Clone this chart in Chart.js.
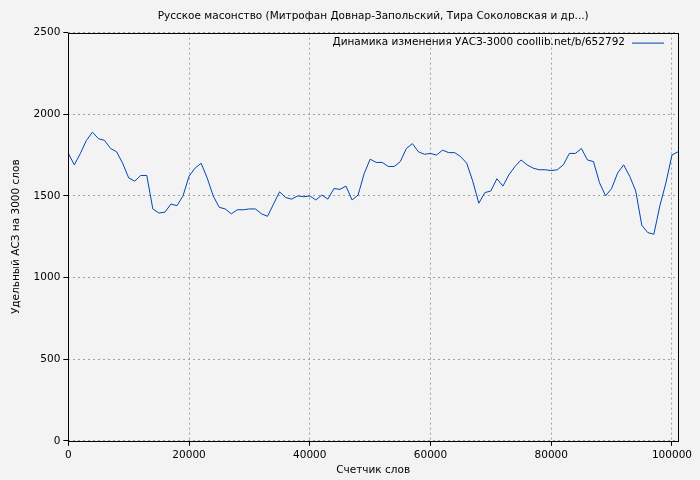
<!DOCTYPE html>
<html>
<head>
<meta charset="utf-8">
<script src="https://cdn.jsdelivr.net/npm/chart.js@4"></script>
<style>
  body { margin: 0; background: #f3f3f3; }
  #wrap { width: 700px; height: 480px; }
</style>
</head>
<body>
<div id="wrap"><canvas id="myChart" width="700" height="480"></canvas></div>
<script>
const xValues = [];
for (let i = 0; i <= 101; i++) xValues.push(i * 1000);
const usesValues = [
  1760, 1690, 1760, 1840, 1890, 1850, 1840, 1790, 1770, 1700,
  1610, 1590, 1625, 1625, 1420, 1395, 1400, 1450, 1440, 1500,
  1620, 1670, 1700, 1610, 1500, 1430, 1420, 1390, 1415, 1415,
  1420, 1420, 1390, 1375, 1450, 1525, 1490, 1480, 1500, 1495,
  1500, 1475, 1505, 1480, 1545, 1540, 1560, 1475, 1505, 1635,
  1725, 1705, 1705, 1680, 1680, 1710, 1790, 1820, 1770, 1755,
  1760, 1750, 1780, 1765, 1765, 1740, 1700, 1590, 1455, 1520,
  1530, 1605, 1560, 1630, 1680, 1720, 1690, 1670, 1660, 1660,
  1655, 1660, 1690, 1760, 1760, 1790, 1720, 1710, 1580, 1500,
  1545, 1640, 1690, 1620, 1530, 1320, 1275, 1265, 1440, 1580,
  1750, 1770,
];
const xTicks = [0, 20000, 40000, 60000, 80000, 100000];
const yTicks = [0, 500, 1000, 1500, 2000, 2500];
const legendText = "Динамика изменения УАСЗ-3000 coollib.net/b/652792";

const points = xValues.map((x, i) => ({ x: x, y: usesValues[i] }));
const font = { family: "DejaVu Sans", size: 10.5 };
const grid = {
  color: "#a0a0a0",
  tickLength: 5,
  tickColor: "#000",
};
const border = { display: false, dash: [2, 3] };

const frameAndLegend = {
  id: "frameAndLegend",
  afterDraw(chart) {
    const { ctx, chartArea: a } = chart;
    ctx.save();
    ctx.strokeStyle = "#000";
    ctx.lineWidth = 1;
    ctx.strokeRect(Math.round(a.left) + 0.5, Math.round(a.top) + 0.5,
      Math.round(a.right - a.left), Math.round(a.bottom - a.top));
    ctx.font = "10.5px 'DejaVu Sans'";
    ctx.fillStyle = "#000";
    ctx.textAlign = "right";
    ctx.textBaseline = "middle";
    const ly = a.top + 10;
    ctx.fillText(legendText, a.right - 53, ly);
    ctx.strokeStyle = "#0046b4";
    ctx.beginPath();
    ctx.moveTo(a.right - 46, ly + 0.5);
    ctx.lineTo(a.right - 14, ly + 0.5);
    ctx.stroke();
    ctx.restore();
  },
};

new Chart(document.getElementById("myChart"), {
  type: "line",
  data: {
    datasets: [
      {
        label: legendText,
        data: points,
        borderColor: "#0046b4",
        backgroundColor: "#0046b4",
        borderWidth: 1,
        pointRadius: 0,
        tension: 0,
      },
    ],
  },
  plugins: [frameAndLegend],
  options: {
    responsive: false,
    animation: false,
    layout: { padding: { left: 10, right: 22, top: 0, bottom: 3 } },
    plugins: {
      title: {
        display: true,
        fullSize: false,
        text: "Русское масонство (Митрофан Довнар-Запольский, Тира Соколовская и др...)",
        color: "#000",
        font: { family: "DejaVu Sans", size: 10.5, weight: "normal" },
        padding: { top: 10, bottom: 10 },
      },
      legend: { display: false },
      tooltip: { enabled: false },
    },
    scales: {
      x: {
        type: "linear",
        min: 0,
        max: 101000,
        afterBuildTicks: (axis) => {
          axis.ticks = xTicks.map((v) => ({ value: v }));
        },
        ticks: { color: "#000", font: font, maxRotation: 0, callback: (v) => String(v) },
        grid: grid,
        border: border,
        title: { display: true, text: "Счетчик слов", color: "#000", font: font, padding: 0 },
      },
      y: {
        min: 0,
        max: 2500,
        afterBuildTicks: (axis) => {
          axis.ticks = yTicks.map((v) => ({ value: v }));
        },
        ticks: { color: "#000", font: font, callback: (v) => String(v) },
        grid: grid,
        border: border,
        title: { display: true, text: "Удельный АСЗ на 3000 слов", color: "#000", font: font, padding: { top: 0, bottom: 8 } },
      },
    },
  },
});
</script>
</body>
</html>
